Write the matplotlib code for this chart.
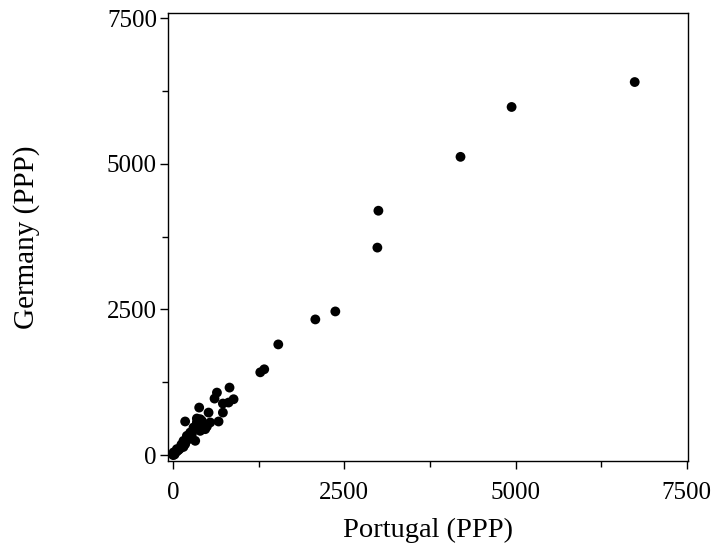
import matplotlib.pyplot as plt
from matplotlib.ticker import MultipleLocator

plt.rcParams['font.family'] = ['Liberation Serif', 'DejaVu Serif']

# (PPP values)
portugal = [6740, 4942, 4196, 2997, 2982, 2368, 2076, 1535, 1330, 1272,
            823, 639, 604, 882, 809, 726, 380, 517, 726, 175, 663, 395,
            346, 443, 297, 492, 395, 249, 200, 322, 151, 127, 54, 5, 0,
            102, 175, 224, 273, 370, 419, 346, 541, 468,
            10, 30, 60, 20, 80, 150, 120, 200, 250, 180]
germany = [6404, 5976, 5120, 4195, 3562, 2466, 2329, 1900, 1473, 1421,
           1159, 1073, 970, 959, 902, 885, 816, 730, 730, 577, 577, 616,
           560, 531, 474, 491, 416, 388, 331, 245, 245, 160, 103, 46, 0,
           114, 188, 274, 360, 502, 588, 628, 560, 445,
           20, 40, 70, 10, 90, 140, 180, 260, 300, 220]

fig = plt.figure(figsize=(7.12, 5.52), dpi=100)
ax = fig.add_axes([0.236, 0.165, 0.730, 0.811])

ax.scatter(portugal, germany, s=50, color='black', edgecolors='none', zorder=3)

ax.set_xlim(-75, 7515)
ax.set_ylim(-100, 7585)
ax.xaxis.set_major_locator(MultipleLocator(2500))
ax.yaxis.set_major_locator(MultipleLocator(2500))
ax.xaxis.set_minor_locator(MultipleLocator(1250))
ax.yaxis.set_minor_locator(MultipleLocator(1250))
ax.tick_params(which='major', direction='out', length=5.5, width=1, labelsize=18)
ax.tick_params(which='minor', direction='out', length=4.5, width=1)
ax.tick_params(axis='x', which='major', pad=10)
ax.tick_params(axis='y', which='major', pad=2.5)
for sp in ax.spines.values():
    sp.set_linewidth(1)

ax.set_xlabel('Portugal (PPP)', fontsize=20.5, labelpad=10)
ax.set_ylabel('Germany (PPP)', fontsize=21, labelpad=48)

fig.savefig('out.png', dpi=100)
